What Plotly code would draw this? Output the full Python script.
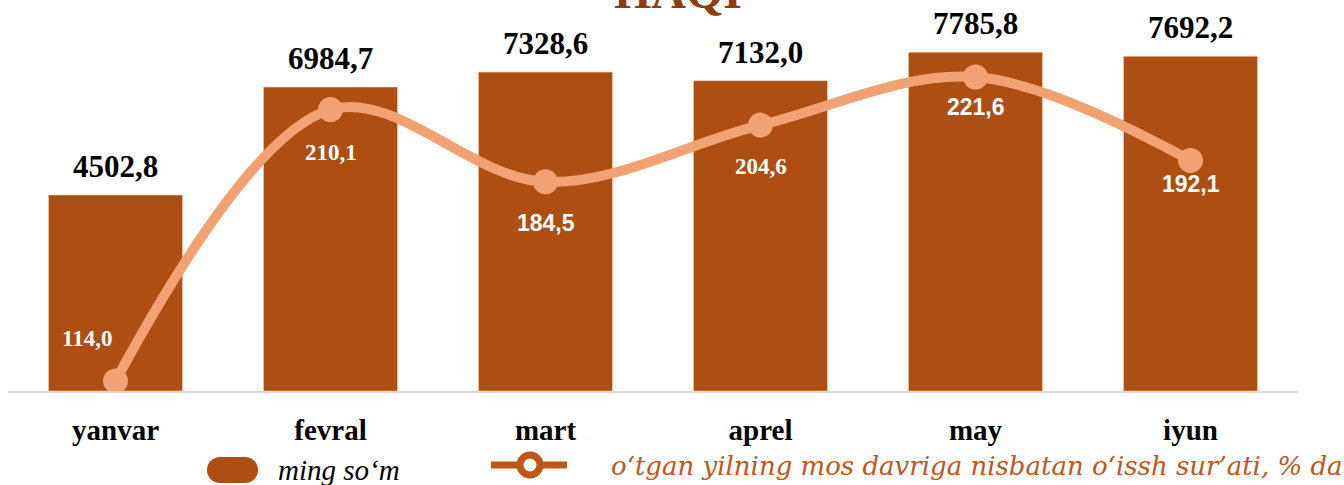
import plotly.graph_objects as go

# ---- data ----
months = ["yanvar", "fevral", "mart", "aprel", "may", "iyun"]
wage = [4502.8, 6984.7, 7328.6, 7132.0, 7785.8, 7692.2]
growth = [114.0, 210.1, 184.5, 204.6, 221.6, 192.1]
wage_labels = ["4502,8", "6984,7", "7328,6", "7132,0", "7785,8", "7692,2"]
growth_labels = ["114,0", "210,1", "184,5", "204,6", "221,6", "192,1"]
legend_bar = "ming so‘m"
legend_line = "o‘tgan yilning mos davriga nisbatan o‘issh sur’ati, % da"
title_text = "HAQI"

# ---- styles ----
W, H = 1344, 485
ML, MR, MT, MB = 8, 46, 0, 94
BAR_C = "#AD4E12"
LINE_C = "#F2A172"
LEG_LINE_C = "#C0561A"
SERIF = "Liberation Serif, Times New Roman, serif"
SANS = "Liberation Sans, Arial, sans-serif"
growth_fonts = [SERIF, SERIF, SANS, SERIF, SANS, SANS]
growth_shift = [(-29, 42), (0, -43), (0, -41), (0, -41), (0, -30), (0, -24)]

PW = W - ML - MR
PH = H - MT - MB


def px(x):
    return (x - ML) / PW


def py(y):
    return (H - MB - y) / PH


fig = go.Figure()
fig.add_trace(go.Bar(x=months, y=wage, marker=dict(color=BAR_C, line=dict(color="#F6C9A8", width=0.6)),
                     showlegend=False, hoverinfo="skip"))
fig.add_trace(go.Scatter(x=months, y=growth, yaxis="y2", mode="lines+markers",
                         line=dict(color=LINE_C, width=10, shape="spline", smoothing=1.0),
                         marker=dict(color=LINE_C, size=25), showlegend=False, hoverinfo="skip"))

ann = []
for m, v, t in zip(months, wage, wage_labels):
    ann.append(dict(x=m, y=v, xref="x", yref="y", text=t, showarrow=False, yanchor="bottom",
                    yshift=9, font=dict(family=SERIF, size=31, color="black", weight="bold")))
for m, v, t, f, (dx, dy) in zip(months, growth, growth_labels, growth_fonts, growth_shift):
    ann.append(dict(x=m, y=v, xref="x", yref="y2", text=t, showarrow=False, yanchor="middle",
                    xshift=dx, yshift=dy, font=dict(family=f, size=23, color="white", weight="bold")))

# title (mostly cut off at the top, as in the reference)
ann.append(dict(x=px(678), y=py(20), xref="paper", yref="paper", text=title_text, showarrow=False,
                yanchor="bottom", xanchor="center",
                font=dict(family=SERIF, size=48, color="#8E3B0E", weight="bold")))

# legend texts
ann.append(dict(x=px(276), y=py(470), xref="paper", yref="paper", text=legend_bar, showarrow=False,
                xanchor="left", yanchor="middle",
                font=dict(family=SERIF, size=29, color="black", style="italic")))
ann.append(dict(x=px(609), y=py(466), xref="paper", yref="paper", text=legend_line, showarrow=False,
                xanchor="left", yanchor="middle",
                font=dict(family="DejaVu Serif", size=26, color=LEG_LINE_C, style="italic")))

shapes = []
# bar legend swatch (rounded)
r = 13
x0, x1, yc = 207, 258, 470
shapes.append(dict(type="rect", xref="paper", yref="paper", x0=px(x0 + r), x1=px(x1 - r),
                   y0=py(yc + r), y1=py(yc - r), fillcolor=BAR_C, line=dict(width=0)))
for cx in (x0 + r, x1 - r):
    shapes.append(dict(type="circle", xref="paper", yref="paper", x0=px(cx - r), x1=px(cx + r),
                       y0=py(yc + r), y1=py(yc - r), fillcolor=BAR_C, line=dict(width=0)))
# line legend swatch
shapes.append(dict(type="line", xref="paper", yref="paper", x0=px(491), x1=px(567), y0=py(465), y1=py(465),
                   line=dict(color=LEG_LINE_C, width=7)))
shapes.append(dict(type="circle", xref="paper", yref="paper", x0=px(520), x1=px(540), y0=py(475), y1=py(455),
                   fillcolor="white", line=dict(color=LEG_LINE_C, width=7)))

fig.update_layout(
    width=W, height=H,
    margin=dict(l=ML, r=MR, t=MT, b=MB),
    paper_bgcolor="white", plot_bgcolor="white",
    bargap=0.377,
    xaxis=dict(showline=True, linecolor="#D9D9D9", linewidth=2, ticks="", showgrid=False,
               tickfont=dict(family=SERIF, size=29, color="black", weight="bold"),
               ticklabelstandoff=12, fixedrange=True),
    yaxis=dict(range=[0, 8986], visible=False, showgrid=False, fixedrange=True),
    yaxis2=dict(range=[110.45, 248.9], overlaying="y", visible=False, showgrid=False, fixedrange=True),
    annotations=ann, shapes=shapes,
    showlegend=False,
)

fig.write_html("out.html", config={"displayModeBar": False},
               post_script="document.body.style.margin='0';document.body.style.overflow='hidden';")
